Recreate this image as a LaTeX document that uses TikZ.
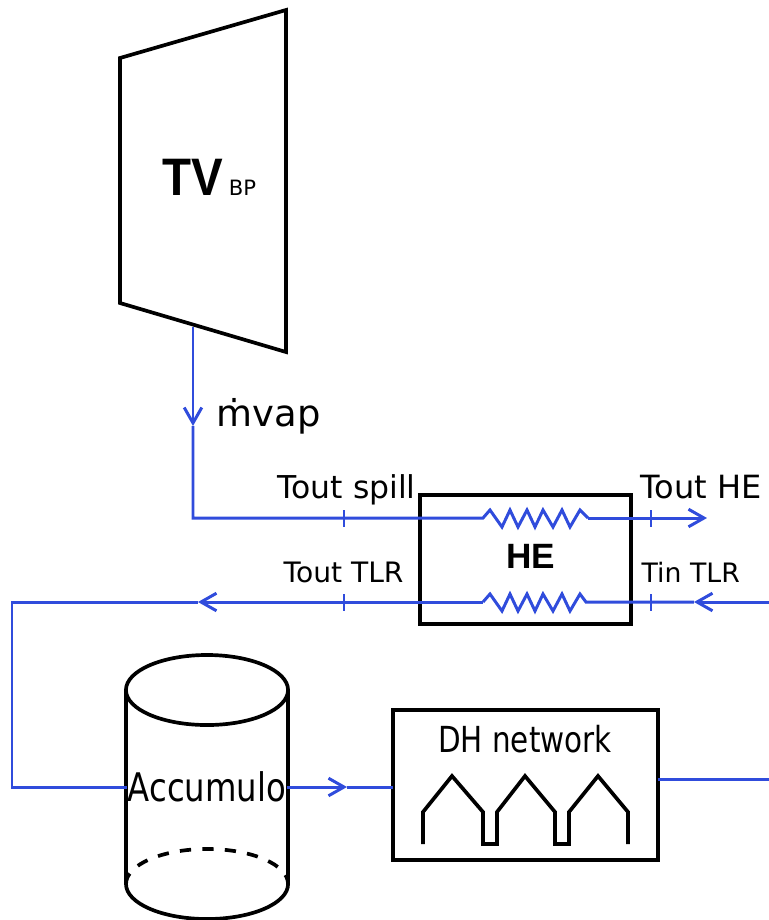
\documentclass[tikz,border=0pt]{standalone}
\usepackage{fontspec}
\setmainfont{DejaVu Sans}
\newfontfamily\narrowfont[FakeStretch=0.82]{DejaVu Sans}
\newfontfamily\headfont{Liberation Sans}
\newfontfamily\turbfont[FakeStretch=0.9]{Liberation Sans}
\usetikzlibrary{arrows.meta}
\definecolor{wireblue}{RGB}{48,76,220}
\tikzset{
  >={Straight Barb[length=4.4pt, width=5pt]},
  wire/.style={line width=0.85pt, wireblue},
  tick/.style={line width=0.7pt, wireblue},
  shell/.style={line width=1.05pt, black},
  box/.style={draw, line width=1.05pt, black, inner sep=0pt},
  label/.style={inner sep=0pt, anchor=base west},
}

\begin{document}
\begin{tikzpicture}[x=0.01cm, y=-0.01cm]
  \useasboundingbox (0,0) rectangle (769,920);

  % Turbine
  \coordinate (tvA) at (120,58);
  \coordinate (tvB) at (286,10);
  \coordinate (tvC) at (286,352);
  \coordinate (tvD) at (120,303);
  \coordinate (tvOut) at (193,327);
  \draw[shell, line join=miter] (tvA) -- (tvB) -- (tvC) -- (tvD) -- cycle;
  \node[label] (tv) at (162,195) {\fontsize{15}{15}\turbfont\bfseries TV\kern1.6pt\fontsize{6}{6}\selectfont\mdseries\rmfamily BP};

  % Heat exchanger box
  \node[box, minimum width=2.11cm, minimum height=1.29cm] (he) at (525.5,559.5) {};
  \node[inner sep=0pt] (helabel) at (531,556) {\fontsize{10}{10}\headfont\bfseries HE};

  % Steam line
  \coordinate (steamMid) at (193,426);
  \coordinate (steamBend) at (193,518);
  \coordinate (coilAin) at (483,518);
  \coordinate (coilAout) at (588,518);
  \coordinate (steamEnd) at (707,518);
  \draw[wire, ->] (tvOut) -- (steamMid);
  \draw[wire] (steamMid) -- (steamBend) -- (coilAin)
     -- (490,510) -- (502,527) -- (510,510) -- (518,527) -- (527,510) -- (535,527)
     -- (543,510) -- (553,527) -- (562,510) -- (570,527) -- (580,510) -- (coilAout);
  \draw[wire, ->] (coilAout) -- (steamEnd);
  \node[label] (mvap) at (216,426) {\fontsize{10.5}{11}\selectfont ṁvap};

  % Return line
  \coordinate (retIn) at (769,602);
  \coordinate (retTip) at (694,602);
  \coordinate (coilBout) at (586,602);
  \coordinate (coilBin) at (483,602);
  \coordinate (retMid) at (198,602);
  \coordinate (retBend) at (12,602);
  \coordinate (retLow) at (12,787);
  \draw[wire, ->] (retIn) -- (retTip);
  \draw[wire] (retTip) -- (coilBout)
     -- (580,594) -- (570,611) -- (562,594) -- (553,611) -- (543,594) -- (535,611)
     -- (527,594) -- (518,611) -- (510,594) -- (502,611) -- (490,594) -- (coilBin);
  \draw[wire, ->] (coilBin) -- (retMid);

  % Temperature ticks
  \draw[tick] (344,510) -- (344,527);
  \draw[tick] (651,510) -- (651,527);
  \draw[tick] (344,594) -- (344,611);
  \draw[tick] (651,594) -- (651,611);

  % Temperature labels
  \node[label] (toutspill) at (277,498) {\fontsize{8.95}{9}\selectfont Tout spill};
  \node[label] (touthe) at (640,498) {\fontsize{9.1}{9}\selectfont Tout HE};
  \node[label] (touttlr) at (283,582) {\fontsize{8}{8}\selectfont Tout TLR};
  \node[label] (tintlr) at (641,582) {\fontsize{7.6}{8}\selectfont Tin TLR};

  % Accumulator
  \draw[shell] (207,690) ellipse (0.81cm and 0.35cm);
  \draw[shell] (126,690) -- (126,884);
  \draw[shell] (288,690) -- (288,884);
  \draw[shell] (126,884) arc (180:360:0.81cm and 0.35cm);
  \draw[shell, dash pattern=on 3.2pt off 3.2pt] (126,884) arc (180:0:0.81cm and 0.35cm);
  \node[inner sep=0pt] (accu) at (207,787) {\fontsize{11.2}{11}\narrowfont Accumulo};

  % District heating
  \node[box, minimum width=2.65cm, minimum height=1.5cm] (dh) at (525.5,785) {};
  \node[inner sep=0pt] (dhlabel) at (525,739) {\fontsize{10.2}{10}\narrowfont DH network};
  \draw[shell, line join=miter]
     (423,844) -- (423,812) -- (452,776) -- (483,812) -- (483,844) -- (497,844)
     -- (497,812) -- (525,776) -- (555,812) -- (555,844) -- (569,844)
     -- (569,812) -- (598,776) -- (628,812) -- (628,844);

  % Links around accumulator and network
  \coordinate (accuMid) at (347,787);
  \coordinate (dhIn) at (393,787);
  \coordinate (dhOut) at (658,779);
  \coordinate (dhEnd) at (769,779);
  \draw[wire] (retMid) -- (retBend) -- (retLow) -- (accu.west);
  \draw[wire, ->] (accu.east) -- (accuMid);
  \draw[wire] (accuMid) -- (dhIn);
  \draw[wire] (dhOut) -- (dhEnd);
\end{tikzpicture}
\end{document}
